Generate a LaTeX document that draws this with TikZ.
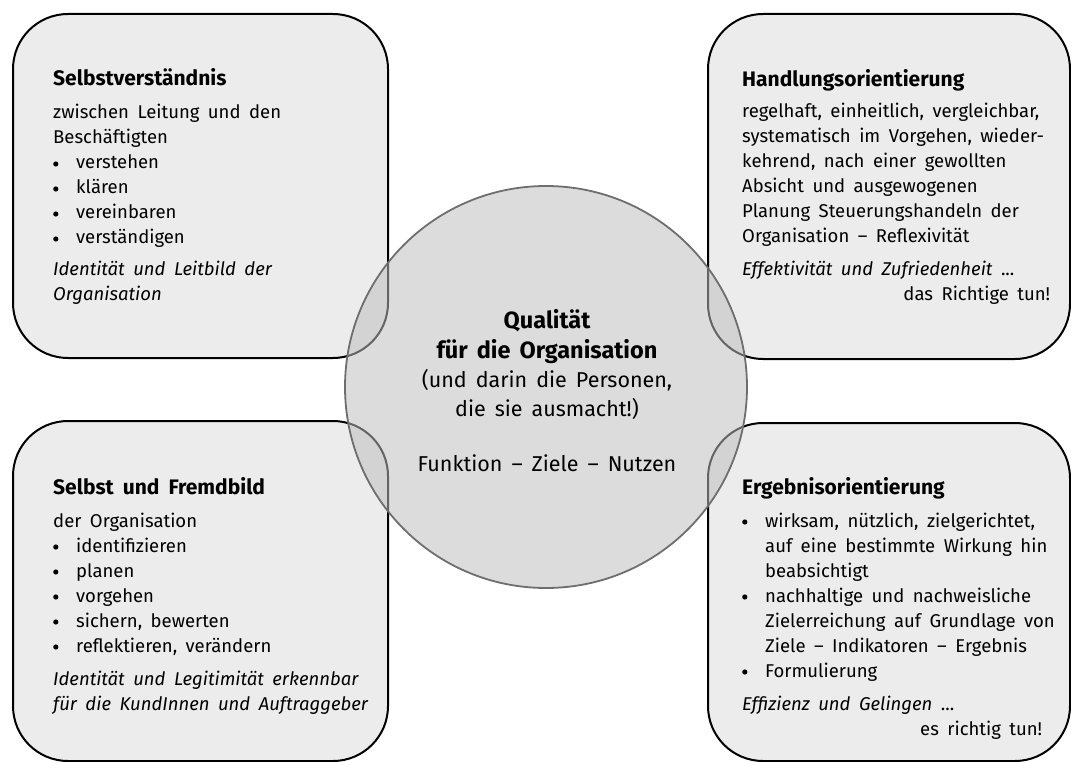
\documentclass[tikz,border=0pt]{standalone}
\usepackage{fontspec}
\setmainfont{Fira Sans}
\definecolor{boxgray}{HTML}{ECECEC}
\definecolor{circgray}{HTML}{BDBDBD}
\definecolor{circline}{HTML}{6E6E6E}
\newcommand{\bul}{\makebox[23pt][l]{\raisebox{5pt}{\tikz[baseline=0pt]\fill (0,0) circle (2.6pt);}}}
\newcommand{\ind}{\hspace*{23pt}}
\newcommand{\boxfont}{\fontsize{18.5pt}{25pt}\selectfont\spaceskip=8.5pt plus 1pt minus 1pt\relax}
\newcommand{\ttl}[1]{{\fontsize{21pt}{25pt}\selectfont\bfseries\spaceskip=9pt plus 1pt minus 1pt\relax #1}}
\tikzset{
  qbox/.style={draw=black, line width=2pt, fill=boxgray, rounded corners=55pt, inner sep=0pt, anchor=north west},
  qcirc/.style={circle, draw=circline, line width=1.8pt, fill=circgray, fill opacity=0.53, draw opacity=1, minimum size=402pt, inner sep=0pt},
  qtext/.style={anchor=base west, inner sep=0pt, text opacity=1},
}
\begin{document}
\begin{tikzpicture}[x=1pt, y=-1pt]
\useasboundingbox (0,0) rectangle (1071,762);
% boxes
\node[qbox, minimum width=375pt, minimum height=344pt] (tl) at (12,13) {};
\node[qbox, minimum width=362pt, minimum height=345pt] (tr) at (707,13) {};
\node[qbox, minimum width=375pt, minimum height=340pt] (bl) at (12,420) {};
\node[qbox, minimum width=362pt, minimum height=338pt] (br) at (707,422) {};
% circle
\node[qcirc] (q) at (546,387) {};
% texts
\node[qtext] (tltext) at (53,86) {\parbox[t]{340pt}{\boxfont
\ttl{Selbstverständnis}\\[8pt]
zwischen Leitung und den\\
Beschäftigten\\
\bul verstehen\\
\bul klären\\
\bul vereinbaren\\
\bul verständigen\\[7pt]
\textit{Identität und Leitbild der}\\
\textit{Organisation}}};
\node[qtext] (trtext) at (742,87) {\parbox[t]{340pt}{\boxfont
\ttl{Handlungsorientierung}\\[6pt]
regelhaft, einheitlich, vergleichbar,\\
systematisch im Vorgehen, wieder-\\
kehrend, nach einer gewollten\\
Absicht und ausgewogenen\\
Planung Steuerungshandeln der\\
Organisation – Reflexivität\\[8pt]
\textit{Effektivität und Zufriedenheit} ...\\
\makebox[308pt][r]{das Richtige tun!}}};
\node[qtext] (bltext) at (53,494) {\parbox[t]{340pt}{\boxfont
\ttl{Selbst und Fremdbild}\\[8pt]
der Organisation\\
\bul identifizieren\\
\bul planen\\
\bul vorgehen\\
\bul sichern, bewerten\\
\bul reflektieren, verändern\\[8pt]
\textit{Identität und Legitimität erkennbar}\\
\textit{für die KundInnen und Auftraggeber}}};
\node[qtext] (brtext) at (742,494) {\parbox[t]{340pt}{\boxfont
\ttl{Ergebnisorientierung}\\[8pt]
\bul wirksam, nützlich, zielgerichtet,\\
\ind auf eine bestimmte Wirkung hin\\
\ind beabsichtigt\\
\bul nachhaltige und nachweisliche\\
\ind Zielerreichung auf Grundlage von\\
\ind Ziele – Indikatoren – Ergebnis\\
\bul Formulierung\\[8pt]
\textit{Effizienz und Gelingen} ...\\
\makebox[300pt][r]{es richtig tun!}}};
\node[anchor=base, inner sep=0pt] (qtxt) at (547,328) {\parbox[t]{390pt}{\centering\fontsize{21.5pt}{29pt}\selectfont\spaceskip=9pt plus 1pt minus 1pt\relax
{\fontsize{23.5pt}{29pt}\selectfont\bfseries Qualität}\\[1pt]
{\fontsize{23.5pt}{29pt}\selectfont\bfseries für die Organisation}\\
(und darin die Personen,\\
die sie ausmacht!)\\[26pt]
Funktion – Ziele – Nutzen\par}};
\end{tikzpicture}
\end{document}
